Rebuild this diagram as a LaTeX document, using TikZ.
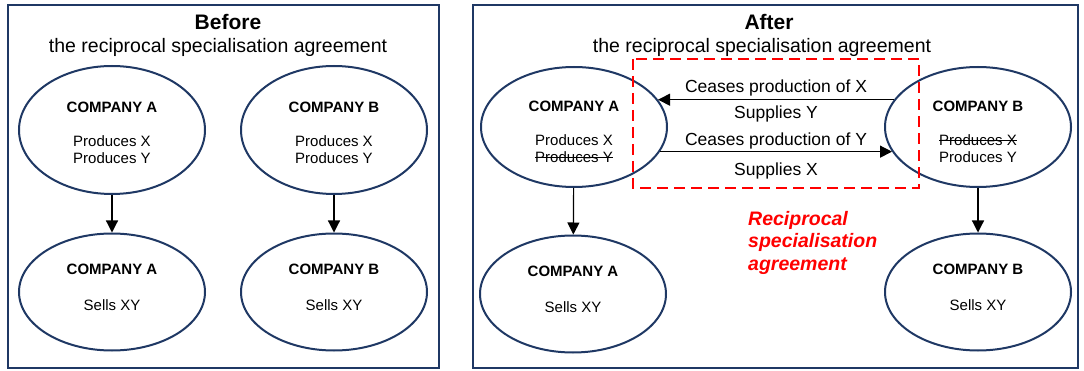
\documentclass[tikz,border=0pt]{standalone}
\usepackage{fontspec}
\setmainfont{Liberation Sans}
\usepackage{tikz}
\usetikzlibrary{shapes.geometric, arrows.meta}
\definecolor{navy}{RGB}{31,56,100}
\newcommand\struck[1]{\setbox0\hbox{#1}\rlap{\rule[0.3em]{\wd0}{0.9pt}}\box0}
\tikzset{
  firm/.style={ellipse, draw=navy, line width=2pt, minimum width=186pt, inner sep=0pt,
    align=center, font=\fontsize{15}{16.5}\selectfont},
  flow/.style={-{Triangle[length=12pt,width=12pt]}, line width=1.2pt},
  tag/.style={font=\fontsize{17.5}{20}\selectfont, inner sep=1.5pt},
}

\begin{document}
\begin{tikzpicture}[x=1pt,y=-1pt]
  \useasboundingbox (0,0) rectangle (1084,371);
  \draw[navy, line width=2pt] (8,5) rectangle (439,368) (473,5) rectangle (1078,368);

  \node (before) at (228,22) {\fontsize{21}{24}\selectfont\bfseries Before};
  \node (bsub) at (218,47) {\fontsize{19.5}{22}\selectfont the reciprocal specialisation agreement};
  \node[firm, minimum height=128pt] (bpa) at (112,130) {\rule{0pt}{16pt}\textbf{COMPANY A}\\[17.5pt]Produces X\\Produces Y};
  \node[firm, minimum height=128pt] (bpb) at (334,130) {\rule{0pt}{16pt}\textbf{COMPANY B}\\[17.5pt]Produces X\\Produces Y};
  \node[firm, minimum height=117pt] (bsa) at (112,292) {\textbf{COMPANY A}\\[19.5pt]Sells XY\rule[-9pt]{0pt}{9pt}};
  \node[firm, minimum height=117pt] (bsb) at (334,292) {\textbf{COMPANY B}\\[19.5pt]Sells XY\rule[-9pt]{0pt}{9pt}};
  \draw[flow] (bpa) -- (bsa);
  \draw[flow] (bpb) -- (bsb);

  \node (after) at (769,22) {\fontsize{21}{24}\selectfont\bfseries After};
  \node (asub) at (762,47) {\fontsize{19.5}{22}\selectfont the reciprocal specialisation agreement};
  \node[firm, minimum height=120pt] (apa) at (574,127) {\rule{0pt}{20pt}\textbf{COMPANY A}\\[17.5pt]Produces X\\\struck{Produces Y}};
  \node[firm, minimum height=120pt] (apb) at (978,127) {\rule{0pt}{20pt}\textbf{COMPANY B}\\[17.5pt]\struck{Produces X}\\Produces Y};
  \node[firm, minimum height=117pt] (asa) at (573,294) {\textbf{COMPANY A}\\[19.5pt]Sells XY\rule[-9pt]{0pt}{9pt}};
  \node[firm, minimum height=117pt] (asb) at (978,292) {\textbf{COMPANY B}\\[19.5pt]Sells XY\rule[-9pt]{0pt}{9pt}};
  \draw[flow] (apa) -- (asa);
  \draw[flow] (apb) -- (asb);

  \draw[flow] (apb.162) -- node[tag, above=1pt]{Ceases production of X} node[tag, below=4pt]{Supplies Y} (apa.18);
  \draw[flow] (apa.-16) -- node[tag, above=0pt]{Ceases production of Y} node[tag, below=9pt]{Supplies X} (apb.196);

  \draw[red, line width=2.2pt, dash pattern=on 11pt off 6pt] (633,59) rectangle (919,188);
  \node[anchor=north west, align=left, inner sep=0pt, text=red,
    font=\fontsize{19.5}{22.5}\selectfont\bfseries\itshape] (deal) at (748,211) {Reciprocal\\specialisation\\agreement};
\end{tikzpicture}
\end{document}
